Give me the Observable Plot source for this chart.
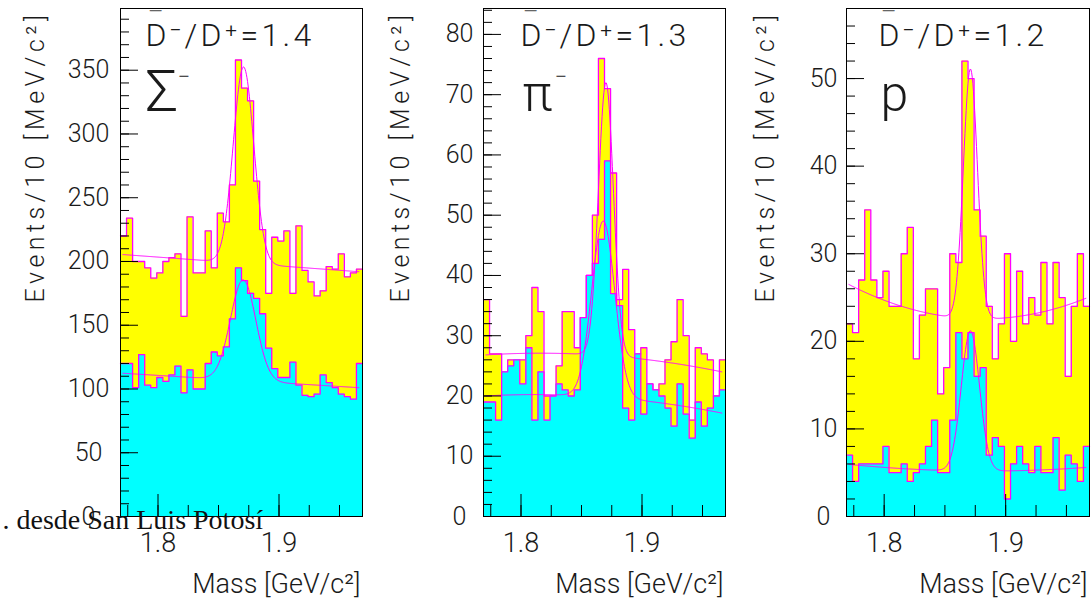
<!DOCTYPE html>
<html><head><meta charset="utf-8">
<script src="https://cdn.jsdelivr.net/npm/d3@7"></script>
<script src="https://cdn.jsdelivr.net/npm/@observablehq/plot@0.6"></script>
<style>
body{margin:0;background:#fff;}
#chart{position:relative;width:1091px;height:603px;overflow:hidden;background:#fff;}
#chart svg{position:absolute;top:0;}
</style></head>
<body><div id="chart"></div>
<script>
// ---------- data ----------
const binLo = 1.769, binWidth = 0.005;          // 40 bins of 5 MeV
const massDomain = [1.769, 1.969];
const massMajorTicks = [1.8, 1.9];
const massMinorTicks = [1.775, 1.8, 1.825, 1.85, 1.875, 1.9, 1.925, 1.95];

// Sigma- panel
const sigmaYMajor = [0, 50, 100, 150, 200, 250, 300, 350];
const sigmaYMinor = [0,10,20,30,40,50,60,70,80,90,100,110,120,130,140,150,160,170,180,190,200,210,220,230,240,250,260,270,280,290,300,310,320,330,340,350,360,370,380,390];
const sigmaAll = [220,234,200,200,195,187,191,200,203,206,157,235,191,191,224,195,238,231,260,358,336,326,263,225,175,219,216,224,175,228,193,184,173,177,196,194,206,188,191,194];
const sigmaSub = [120,120,101,127,103,101,109,106,111,118,97,115,100,100,120,129,126,133,155,195,185,175,171,159,132,116,109,109,121,103,95,94,96,111,105,101,96,94,92,120];
// fit parameters: [bg a, bg b, bg c, gauss amplitude, mean, sigma] (background in t = m - 1.87)
const sigmaFitAll = [198.6, -69, 0, 154, 1.8707, 0.0085];
const sigmaFitSub = [106.6, -58, 0, 79, 1.8704, 0.0105];

// pi- panel
const piYMajor = [0, 10, 20, 30, 40, 50, 60, 70, 80];
const piYMinor = [0,2,4,6,8,10,12,14,16,18,20,22,24,26,28,30,32,34,36,38,40,42,44,46,48,50,52,54,56,58,60,62,64,66,68,70,72,74,76,78,80,82,84];
const piAll = [36,27,27,24,26,26,26,30,38,34,20,20,25,34,34,28,33,40,50,76,71,57,36,41,31,27,28,22,21,22,26,29,36,30,16,28,27,26,20,26];
const piSub = [19,19,16,24,25,26,22,28,16,24,16,20,22,21,20,21,33,40,42,46,59,37,35,18,16,27,17,22,21,20,18,15,22,17,13,19,15,18,20,21];
const piFitAll = [26.7, -14.84, -138.4, 45.3, 1.8702, 0.0062];
const piFitSub = [19.8, -15, -130, 29.2, 1.868, 0.0095];

// proton panel
const protonYMajor = [0, 10, 20, 30, 40, 50];
const protonYMinor = [0,2,4,6,8,10,12,14,16,18,20,22,24,26,28,30,32,34,36,38,40,42,44,46,48,50,52,54,56];
const protonAll = [22,21,27,35,27,25,28,24,24,30,33,18,23,26,26,14,17,30,29,52,50,35,32,24,18,22,30,20,28,22,25,23,29,22,29,25,16,24,30,24];
const protonSub = [7,4,6,6,6,6,8,5,5,6,4,5,6,8,11,5,5,11,21,18,21,16,17,7,9,8,2,6,8,6,5,8,5,5,9,3,7,6,4,8];
const protonFitAll = [22.6, -7.1, 325, 28.5, 1.871, 0.0058];
const protonFitSub = [5.2, -1.6, 60, 16, 1.871, 0.0075];

const ratioLabels = ["1.4", "1.3", "1.2"];
const particleLabels = ["Σ", "π", "p"];
const xTitle = "Mass [GeV/c²]";
const yTitle = "Events/10 [MeV/c²]";
const watermark = ". desde San Luis Potosí";

// ---------- helpers ----------
const fitStart = 1.771, fitEnd = 1.9665, fitStep = 0.0005, fitRef = 1.87;
function histRows(values) {
  const rows = values.map((v, i) => ({x: binLo + i * binWidth, y: v}));
  rows.push({x: binLo + values.length * binWidth, y: values[values.length - 1]});
  return rows;
}
function fitRows(p) {
  const [a, b, c, amp, mu, s] = p;
  return d3.range(fitStart, fitEnd, fitStep).map(m => {
    const t = m - fitRef;
    return {x: m, y: a + b * t + c * t * t + amp * Math.exp(-0.5 * ((m - mu) / s) ** 2)};
  });
}

const FONT = "Roboto, 'Liberation Sans', Arial, sans-serif";
const INK = "#1a1a1a";
const YELLOW = "#ffff00", CYAN = "#00ffff", MAGENTA = "#ff00ff";

const panels = [
  {left: 0, width: 363, mr: 1, yMax: 398.4, yMajor: sigmaYMajor, yMinor: sigmaYMinor, all: sigmaAll, sub: sigmaSub,
   fitAll: sigmaFitAll, fitSub: sigmaFitSub, ratio: ratioLabels[0], particle: particleLabels[0], sup: true,
   titleDx: 25, partDx: 25, partSize: 58, supDx: 57, yLabDx: -32, yTitleDx: -85},
  {left: 363, width: 363, mr: 1, yMax: 84.3, yMajor: piYMajor, yMinor: piYMinor, all: piAll, sub: piSub,
   fitAll: piFitAll, fitSub: piFitSub, ratio: ratioLabels[1], particle: particleLabels[1], sup: true,
   titleDx: 37, partDx: 39, partSize: 50, supDx: 71, yLabDx: -24, yTitleDx: -83},
  {left: 726, width: 365, mr: 2, yMax: 58.0, yMajor: protonYMajor, yMinor: protonYMinor, all: protonAll, sub: protonSub,
   fitAll: protonFitAll, fitSub: protonFitSub, ratio: ratioLabels[2], particle: particleLabels[2], sup: false,
   titleDx: 32, partDx: 34, partSize: 50, supDx: 0, yLabDx: -23, yTitleDx: -81}
];

const chart = document.getElementById("chart");
panels.forEach((p, k) => {
  const txt = {fontFamily: FONT, fontWeight: 300, fill: INK};
  const ratioText = "D⁻/D⁺=" + p.ratio;
  const marks = [
    Plot.areaY(histRows(p.all), {x: "x", y: "y", curve: "step-after", fill: YELLOW}),
    Plot.line(histRows(p.all), {x: "x", y: "y", curve: "step-after", stroke: MAGENTA, strokeWidth: 1.3}),
    Plot.areaY(histRows(p.sub), {x: "x", y: "y", curve: "step-after", fill: CYAN}),
    Plot.line(histRows(p.sub), {x: "x", y: "y", curve: "step-after", stroke: MAGENTA, strokeWidth: 1.3}),
    Plot.line(fitRows(p.fitAll), {x: "x", y: "y", stroke: MAGENTA, strokeWidth: 1}),
    Plot.line(fitRows(p.fitSub), {x: "x", y: "y", stroke: MAGENTA, strokeWidth: 1}),
    Plot.axisY(p.yMinor, {anchor: "left", tickSize: 9, dx: 9, tickFormat: () => "", label: null}),
    Plot.axisY(p.yMajor, {anchor: "left", tickSize: 18, dx: 18, tickFormat: () => "", label: null}),
    Plot.axisX(massMinorTicks, {anchor: "bottom", tickSize: 11, dy: -11, tickFormat: () => "", label: null}),
    Plot.axisX(massMajorTicks, {anchor: "bottom", tickSize: 22, dy: -22, tickFormat: () => "", label: null}),
    Plot.frame({stroke: "black", strokeWidth: 1}),
    Plot.text(p.yMajor, {y: d => d, text: d => String(d), frameAnchor: "left", dx: p.yLabDx, textAnchor: "middle", lineAnchor: "middle", fontSize: 25, ...txt}),
    Plot.text(massMajorTicks, {x: d => d, text: d => String(d), frameAnchor: "bottom", dy: 27, textAnchor: "middle", lineAnchor: "middle", fontSize: 27, ...txt}),
    Plot.text([xTitle], {text: d => d, frameAnchor: "bottom-right", dx: -2, dy: 76, textAnchor: "end", lineAnchor: "bottom", fontSize: 27, ...txt}),
    Plot.text([yTitle], {text: d => d, frameAnchor: "top-left", dx: p.yTitleDx, dy: 148, rotate: -90, textAnchor: "middle", lineAnchor: "middle", fontSize: 25, ...txt}),
    Plot.text([ratioText], {text: d => d, frameAnchor: "top-left", dx: p.titleDx, dy: 37, textAnchor: "start", lineAnchor: "bottom", fontSize: 32, ...txt}),
    Plot.text(["—"], {text: d => d, frameAnchor: "top-left", dx: p.titleDx + 3, dy: 8, textAnchor: "start", lineAnchor: "bottom", fontSize: 18, fontFamily: FONT, fill: "#666"}),
    Plot.text([p.particle], {text: d => d, frameAnchor: "top-left", dx: p.partDx, dy: 102, textAnchor: "start", lineAnchor: "bottom", fontSize: p.partSize, ...txt}),
  ];
  if (p.sup) marks.push(Plot.text(["−"], {text: d => d, frameAnchor: "top-left", dx: p.supDx, dy: 75, textAnchor: "start", lineAnchor: "bottom", fontSize: 22, ...txt}));
  if (k === 0) marks.push(Plot.text([watermark], {text: d => d, frameAnchor: "bottom-left", dx: -118, dy: 12, textAnchor: "start", lineAnchor: "bottom", fontSize: 28, fontFamily: "'Liberation Serif', 'DejaVu Serif', serif", fill: "#111"}));

  const svg = Plot.plot({
    width: p.width, height: 603,
    marginLeft: 120, marginRight: p.mr, marginTop: 8, marginBottom: 87,
    x: {domain: massDomain},
    y: {domain: [0, p.yMax]},
    style: {background: "none", overflow: "visible"},
    marks
  });
  svg.style.left = p.left + "px";
  svg.querySelectorAll("text").forEach(t => {
    if (t.textContent === ratioText) t.setAttribute("letter-spacing", "3.3");
    if (t.textContent === yTitle) t.setAttribute("letter-spacing", "4.5");
  });
  chart.appendChild(svg);
});
</script>
</body></html>
